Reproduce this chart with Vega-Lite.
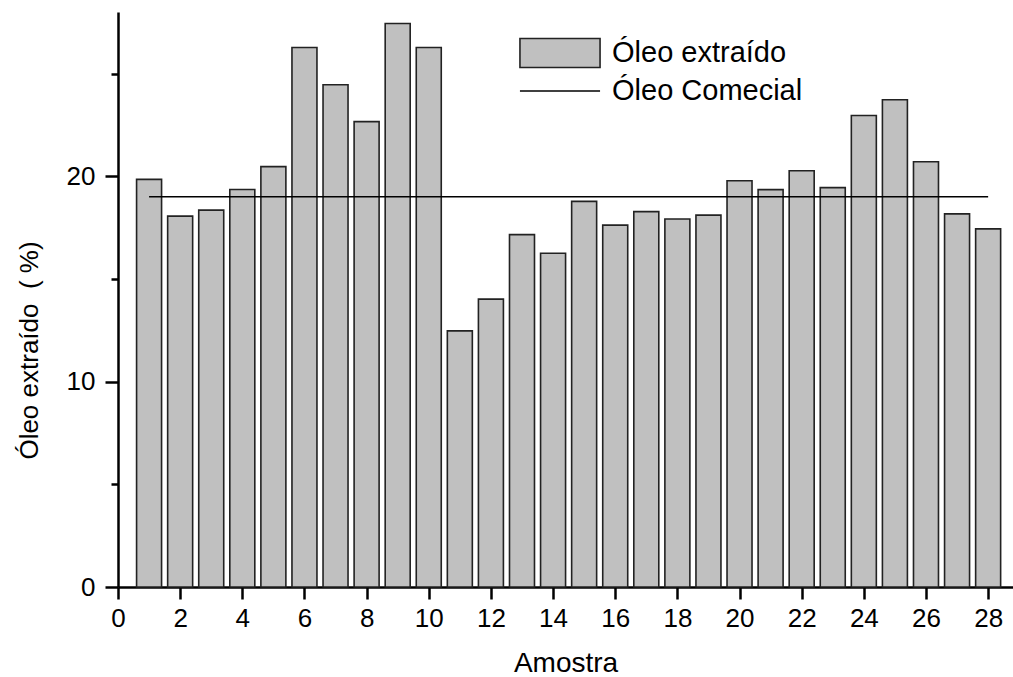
{
  "$schema": "https://vega.github.io/schema/vega-lite/v6.json",
  "width": 895,
  "height": 575,
  "autosize": {"type": "none"},
  "padding": {"left": 118, "top": 12, "right": 0, "bottom": 90},
  "background": "white",
  "config": {
    "view": {"stroke": null},
    "font": "Liberation Sans",
    "axis": {
      "grid": false,
      "domainColor": "#000",
      "domainWidth": 2.5,
      "tickColor": "#000",
      "tickWidth": 2.5,
      "labelColor": "#000",
      "labelFont": "Liberation Sans",
      "labelFontSize": 26,
      "titleColor": "#000",
      "titleFont": "Liberation Sans",
      "titleFontSize": 28,
      "titleFontWeight": "normal",
      "labelFlush": false,
      "labelOverlap": false
    },
    "legend": {
      "labelFont": "Liberation Sans",
      "labelFontSize": 29,
      "labelColor": "#000",
      "labelLimit": 400,
      "padding": 0
    }
  },
  "layer": [
    {
      "data": {
        "values": [
          {"amostra": 1, "oleo": 19.85},
          {"amostra": 2, "oleo": 18.06},
          {"amostra": 3, "oleo": 18.35},
          {"amostra": 4, "oleo": 19.36},
          {"amostra": 5, "oleo": 20.47},
          {"amostra": 6, "oleo": 26.27},
          {"amostra": 7, "oleo": 24.46},
          {"amostra": 8, "oleo": 22.66},
          {"amostra": 9, "oleo": 27.44},
          {"amostra": 10, "oleo": 26.27},
          {"amostra": 11, "oleo": 12.47},
          {"amostra": 12, "oleo": 14.02},
          {"amostra": 13, "oleo": 17.16},
          {"amostra": 14, "oleo": 16.25},
          {"amostra": 15, "oleo": 18.78},
          {"amostra": 16, "oleo": 17.62},
          {"amostra": 17, "oleo": 18.28},
          {"amostra": 18, "oleo": 17.92},
          {"amostra": 19, "oleo": 18.11},
          {"amostra": 20, "oleo": 19.78},
          {"amostra": 21, "oleo": 19.35},
          {"amostra": 22, "oleo": 20.27},
          {"amostra": 23, "oleo": 19.45},
          {"amostra": 24, "oleo": 22.96},
          {"amostra": 25, "oleo": 23.73},
          {"amostra": 26, "oleo": 20.71},
          {"amostra": 27, "oleo": 18.17},
          {"amostra": 28, "oleo": 17.44}
        ]
      },
      "mark": {"type": "bar", "size": 25, "stroke": "#222222", "strokeWidth": 1.6},
      "encoding": {
        "x": {
          "field": "amostra",
          "type": "quantitative",
          "scale": {"domain": [0, 28.8], "nice": false, "zero": false, "padding": 0},
          "axis": {
            "title": "Amostra",
            "values": [0,1,2,3,4,5,6,7,8,9,10,11,12,13,14,15,16,17,18,19,20,21,22,23,24,25,26,27,28],
            "labelExpr": "datum.value % 2 ? '' : datum.label",
            "tickSize": {"condition": {"test": "datum.value % 2 === 1", "value": 6}, "value": 12},
            "labelPadding": 6,
            "titlePadding": 18
          }
        },
        "y": {
          "field": "oleo",
          "type": "quantitative",
          "scale": {"domain": [0, 28], "nice": false, "padding": 0},
          "axis": {
            "title": "Óleo extraído\u00a0\u00a0( %)",
            "titleFontSize": 26,
            "values": [0, 5, 10, 15, 20, 25],
            "labelExpr": "datum.value % 10 ? '' : datum.label",
            "tickSize": {"condition": {"test": "datum.value % 10 === 5", "value": 7}, "value": 13},
            "labelPadding": 10,
            "titlePadding": 24,
            "titleY": 338
          }
        },
        "fill": {
          "datum": "Óleo extraído",
          "type": "nominal",
          "scale": {"domain": ["Óleo extraído"], "range": ["#c0c0c0"]},
          "legend": {
            "title": null,
            "orient": "none",
            "legendX": 426,
            "legendY": 25,
            "symbolType": "M-2.67,-0.97H2.67V0.97H-2.67Z",
            "symbolSize": 900,
            "symbolFillColor": "#c0c0c0",
            "symbolStrokeColor": "#222222",
            "symbolStrokeWidth": 1.6,
            "symbolOpacity": 1,
            "labelOffset": 36
          }
        }
      }
    },
    {
      "data": {"values": [{"inicio": 1, "fim": 28, "comercial": 19}]},
      "mark": {"type": "rule", "strokeWidth": 1.5},
      "encoding": {
        "x": {"field": "inicio", "type": "quantitative"},
        "x2": {"field": "fim"},
        "y": {"field": "comercial", "type": "quantitative"},
        "stroke": {
          "datum": "Óleo Comecial",
          "type": "nominal",
          "scale": {"domain": ["Óleo Comecial"], "range": ["#000000"]},
          "legend": {
            "title": null,
            "orient": "none",
            "legendX": 426,
            "legendY": 63,
            "symbolType": "M-2.67,0H2.67",
            "symbolSize": 900,
            "symbolStrokeColor": "#000000",
            "symbolStrokeWidth": 1.5,
            "symbolOpacity": 1,
            "labelOffset": 36
          }
        }
      }
    }
  ]
}
